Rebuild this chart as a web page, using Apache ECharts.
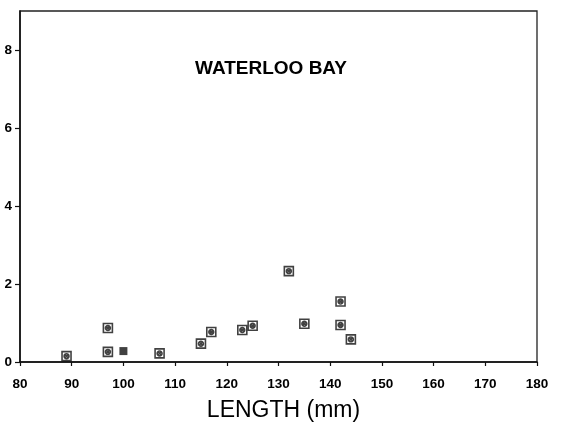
<!DOCTYPE html>
<html>
<head>
<meta charset="utf-8">
<script src="https://cdn.jsdelivr.net/npm/echarts@6/dist/echarts.min.js"></script>
<style>
  html, body { margin: 0; padding: 0; background: #fff; }
  #chart { width: 562px; height: 425px; }
</style>
</head>
<body>
<div id="chart"></div>
<script>
// Fish length (mm) against measured value, Waterloo Bay sample
const lengthMm = [89, 97, 97, 107, 115, 117, 123, 125, 132, 135, 142, 142, 144];
const values   = [0.15, 0.87, 0.26, 0.22, 0.47, 0.77, 0.82, 0.93, 2.33, 0.98, 1.55, 0.95, 0.58];

// Overlapping records drawn as a solid square
const solidLength = [100];
const solidValue  = [0.28];

const xTicks = [80, 90, 100, 110, 120, 130, 140, 150, 160, 170, 180];
const yTicks = [0, 2, 4, 6, 8];

const pairs = (xs, ys) => xs.map((x, i) => [x, ys[i]]);

// boxed circle-cross marker
const boxedCross = 'path://M0 0H10V10H0Z M2.3 5A2.7 2.7 0 1 0 7.7 5A2.7 2.7 0 1 0 2.3 5Z M3.2 3.2L6.8 6.8M6.8 3.2L3.2 6.8';

const chart = echarts.init(document.getElementById('chart'), null, { renderer: 'canvas' });

const tickFont = { color: '#000', fontFamily: 'Liberation Sans', fontWeight: 'bold', fontSize: 13.5 };

chart.setOption({
  animation: false,
  backgroundColor: '#fff',
  grid: {
    left: 20, right: 25, top: 11, bottom: 63,
    show: true, borderColor: '#222', borderWidth: 1.3,
    containLabel: false, outerBoundsMode: 'none'
  },
  graphic: [{
    type: 'text',
    x: 271, y: 69,
    style: {
      text: 'WATERLOO BAY',
      textAlign: 'center', textVerticalAlign: 'middle',
      fill: '#000',
      font: 'bold 19px "Liberation Sans"'
    }
  }],
  xAxis: {
    type: 'value',
    min: xTicks[0], max: xTicks[xTicks.length - 1], interval: 10,
    name: 'LENGTH (mm)',
    nameLocation: 'middle',
    nameGap: 37,
    nameTextStyle: { color: '#000', fontFamily: 'Liberation Sans', fontSize: 23, padding: [0, 0, 0, 10] },
    axisLine: { show: true, lineStyle: { color: '#111', width: 1.5 } },
    axisTick: { show: true, inside: false, length: 4, customValues: xTicks, lineStyle: { color: '#111', width: 1.2 } },
    axisLabel: {
      ...tickFont, margin: 15,
      customValues: xTicks
    },
    splitLine: { show: false }
  },
  yAxis: {
    type: 'value',
    min: 0, max: 9, interval: 2,
    axisLine: { show: true, lineStyle: { color: '#111', width: 1.6 } },
    axisTick: { show: true, inside: false, length: 5, customValues: yTicks, lineStyle: { color: '#111', width: 1.2 } },
    axisLabel: {
      ...tickFont, margin: 8,
      customValues: yTicks
    },
    splitLine: { show: false }
  },
  series: [
    {
      type: 'scatter',
      data: pairs(lengthMm, values),
      symbol: boxedCross,
      symbolSize: 9,
      itemStyle: { color: 'rgba(0,0,0,0)', borderColor: '#111', borderWidth: 1.6 }
    },
    {
      type: 'scatter',
      data: pairs(solidLength, solidValue),
      symbol: 'rect',
      symbolSize: 8,
      itemStyle: { color: '#111' }
    }
  ]
});
</script>
</body>
</html>
